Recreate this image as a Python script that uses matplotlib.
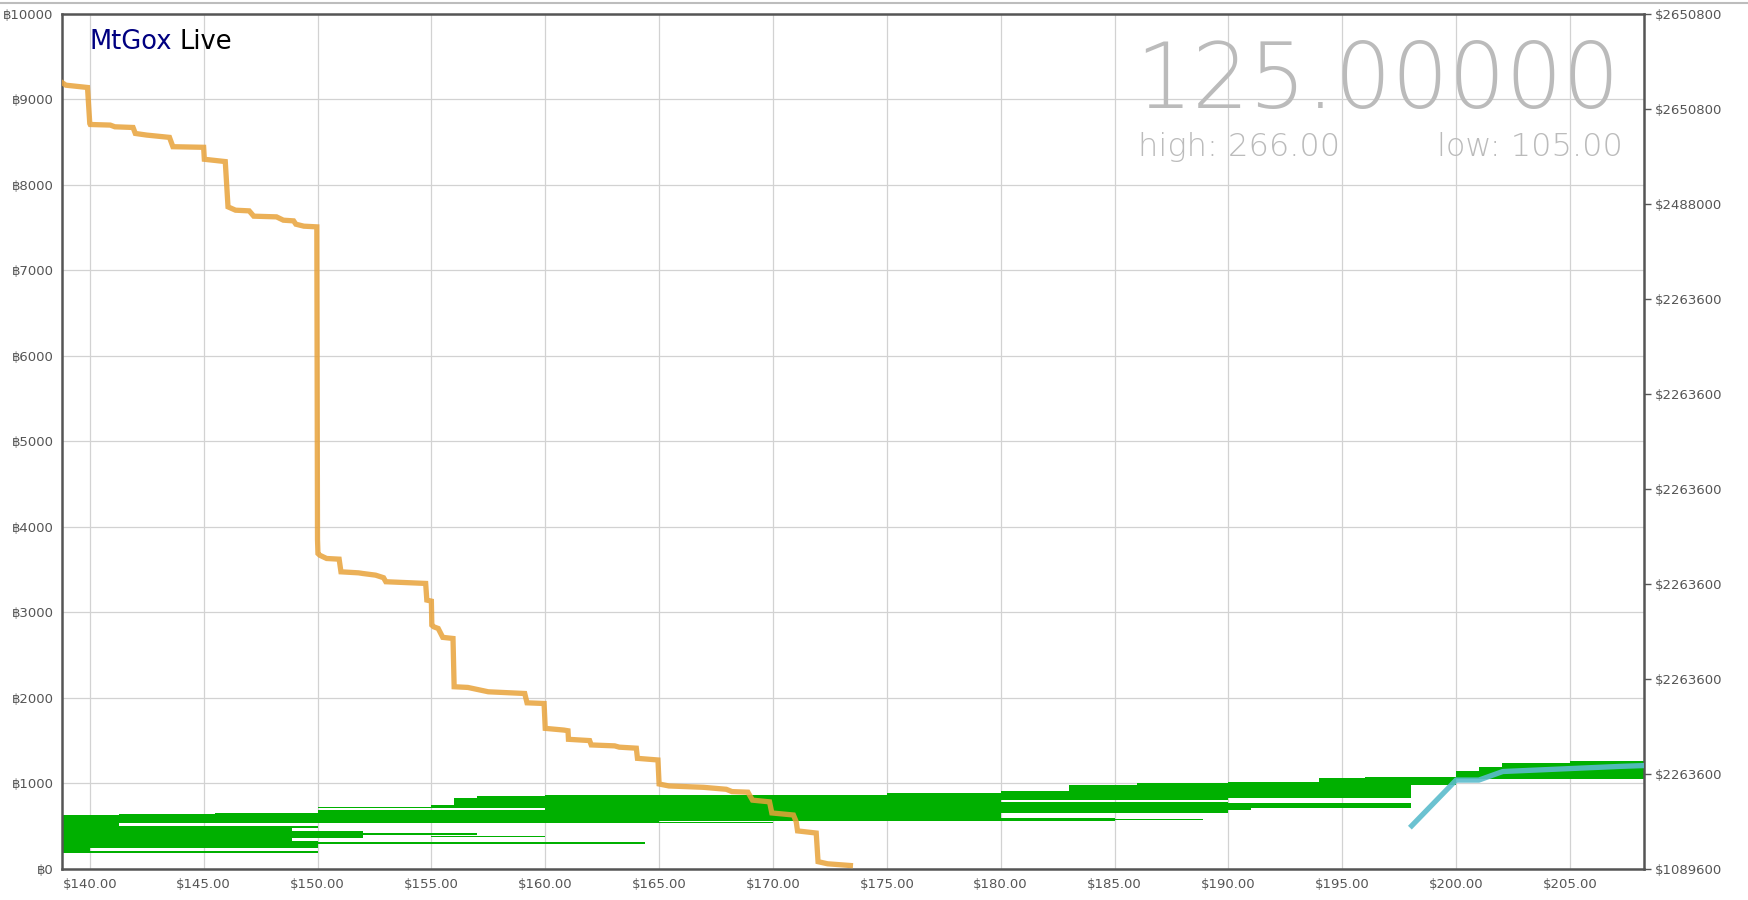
import matplotlib
matplotlib.use("Agg")
import matplotlib.pyplot as plt
from matplotlib.lines import Line2D
import numpy as np

plt.rcParams['font.family'] = ['DejaVu Sans', 'Noto Sans', 'Noto Sans CJK SC']

# ask depth line (price, cumulative BTC)
ask_price = [138.8, 138.95, 139.9, 140.0, 140.02, 140.9, 141.1, 141.9, 142.0, 142.5,
             143.5, 143.65, 145.0, 145.03, 145.95, 146.07, 146.4, 147.0, 147.2, 148.2,
             148.5, 148.95, 149.05, 149.4, 149.97, 150.0, 150.02, 150.1, 150.4, 150.95,
             151.03, 151.8, 152.0, 152.55, 152.9, 153.0, 154.75, 154.8, 155.0, 155.02,
             155.1, 155.3, 155.5, 155.95, 156.0, 156.6, 157.5, 159.1, 159.2, 159.95,
             160.0, 160.82, 161.0, 161.02, 161.45, 161.95, 162.02, 163.05, 163.25, 164.0,
             164.05, 164.95, 165.0, 165.43, 166.95, 167.95, 168.2, 168.9, 169.1, 169.85,
             169.95, 170.9, 171.02, 171.08, 171.9, 171.98, 172.4, 173.4]
ask_volume = [9194, 9167, 9140, 8718, 8707, 8700, 8680, 8672, 8602, 8583,
              8556, 8447, 8440, 8300, 8273, 7743, 7704, 7696, 7634, 7626,
              7587, 7579, 7540, 7517, 7509, 3850, 3686, 3666, 3628, 3620,
              3472, 3460, 3452, 3433, 3403, 3356, 3336, 3141, 3129, 2848,
              2829, 2809, 2705, 2692, 2127, 2119, 2068, 2048, 1939, 1931,
              1640, 1620, 1612, 1512, 1505, 1497, 1446, 1435, 1420, 1408,
              1289, 1270, 989, 966, 950, 927, 900, 893, 800, 780,
              650, 626, 548, 440, 415, 80, 55, 35]

# bid order bands (price from, price to, BTC low, BTC high)
bid_from = [138.8, 141.3, 145.5, 138.8, 140.0, 148.9, 148.9, 148.9, 138.8,
            150.0, 155.0, 156.0, 157.0, 150.0, 160.0, 150.0, 152.0, 155.0, 150.0,
            165.0, 175.0,
            180.0, 183.0, 186.0, 180.0, 180.0, 185.0, 160.0,
            190.0, 194.0, 196.0, 190.0, 190.0,
            198.0, 200.0, 201.0, 202.0, 205.0]
bid_to = [141.3, 145.5, 150.0, 140.0, 148.9, 150.0, 150.0, 150.0, 150.0,
          155.0, 156.0, 157.0, 160.0, 160.0, 165.0, 152.0, 157.0, 160.0, 164.4,
          175.0, 180.0,
          183.0, 186.0, 190.0, 190.0, 185.0, 188.9, 170.0,
          194.0, 196.0, 198.0, 198.0, 191.0,
          200.0, 201.0, 202.0, 205.0, 208.3]
bid_low = [500, 530, 530, 186, 236, 470, 353, 244, 186,
           704, 704, 704, 704, 536, 540, 355, 390, 368, 292,
           556, 556,
           800, 800, 800, 646, 560, 565, 536,
           830, 830, 830, 705, 690,
           972, 1050, 1050, 1050, 1050]
bid_high = [622, 632, 648, 500, 500, 501, 442, 322, 206,
            725, 745, 821, 848, 688, 858, 440, 412, 382, 306,
            862, 880,
            910, 977, 1005, 778, 590, 585, 548,
            1012, 1056, 1075, 763, 705,
            1068, 1145, 1185, 1230, 1262]

# bid line
bid_price = [198.05, 200.0, 201.0, 202.05, 207.2, 208.3]
bid_volume = [500, 1035, 1035, 1135, 1195, 1205]

x_ticks = np.arange(140, 206, 5)
y_ticks = np.arange(0, 10001, 1000)
right_labels = ['$1089600', '$2263600', '$2263600', '$2263600', '$2263600',
                '$2263600', '$2263600', '$2488000', '$2650800', '$2650800']

W, H = 1748, 900
fig = plt.figure(figsize=(W / 100, H / 100), dpi=100)
fig.patch.set_facecolor('white')
ax = fig.add_axes([62 / W, 1 - 868.5 / H, (1644 - 62) / W, (868.5 - 14) / H])

ax.set_xlim(138.78, 208.25)
ax.set_ylim(0, 10000)

ax.set_xticks(x_ticks)
ax.set_xticklabels(['$%.2f' % v for v in x_ticks])
ax.set_yticks(y_ticks)
ax.set_yticklabels(['\u0e3f%d' % v for v in y_ticks])
ax.grid(True, color='#d2d2d2', linewidth=0.9)
ax.set_axisbelow(True)
ax.tick_params(axis='both', length=0, labelsize=9.5, labelcolor='#555555')
ax.tick_params(axis='x', pad=7)
ax.tick_params(axis='y', pad=6)
for s in ax.spines.values():
    s.set_color('#555555')
    s.set_linewidth(1.8)

# bid bands
centers = [(lo + hi) / 2 for lo, hi in zip(bid_low, bid_high)]
heights = [hi - lo for lo, hi in zip(bid_low, bid_high)]
widths = [b - a for a, b in zip(bid_from, bid_to)]
ax.barh(centers, widths, height=heights, left=bid_from, color='#00b000',
        linewidth=0, zorder=2)

ax.plot(ask_price, ask_volume, color='#e8a23a', alpha=0.85, linewidth=3.8,
        solid_joinstyle='miter', zorder=3)
ax.plot(bid_price, bid_volume, color='#5bbccc', alpha=0.9, linewidth=3.8, zorder=3)

# right axis
ax2 = ax.twinx()
ax2.set_ylim(0, 1)
ax2.set_yticks(np.linspace(0, 1, 10))
ax2.set_yticklabels(right_labels)
ax2.tick_params(axis='y', length=5, width=1, color='#555555', labelsize=9.5,
                labelcolor='#555555', pad=3)
for s in ax2.spines.values():
    s.set_visible(False)

# header texts
t1 = fig.text(89 / W, 1 - 49 / H, 'MtGox', color='#000080', fontsize=18.5,
              va='baseline', ha='left')
ax.annotate('Live', xy=(1, 0), xycoords=t1, xytext=(6, 0),
            textcoords='offset points', color='black', fontsize=18.5,
            va='bottom', ha='left')
fig.text(1620 / W, 1 - 108 / H, '125.00000', color='#bbbbbb', fontsize=64.5,
         fontweight='light', ha='right', va='baseline')
fig.text(1138 / W, 1 - 156 / H, 'high: 266.00', color='#bbbbbb', fontsize=23,
         fontweight='light', ha='left', va='baseline')
fig.text(1623 / W, 1 - 156 / H, 'low: 105.00', color='#bbbbbb', fontsize=23,
         fontweight='light', ha='right', va='baseline')

# page border line at top
fig.add_artist(Line2D([0, 1], [1 - 2.5 / H, 1 - 2.5 / H], color='#bdbdbd',
                      linewidth=1.5, transform=fig.transFigure))

fig.savefig('out.png', dpi=100)
